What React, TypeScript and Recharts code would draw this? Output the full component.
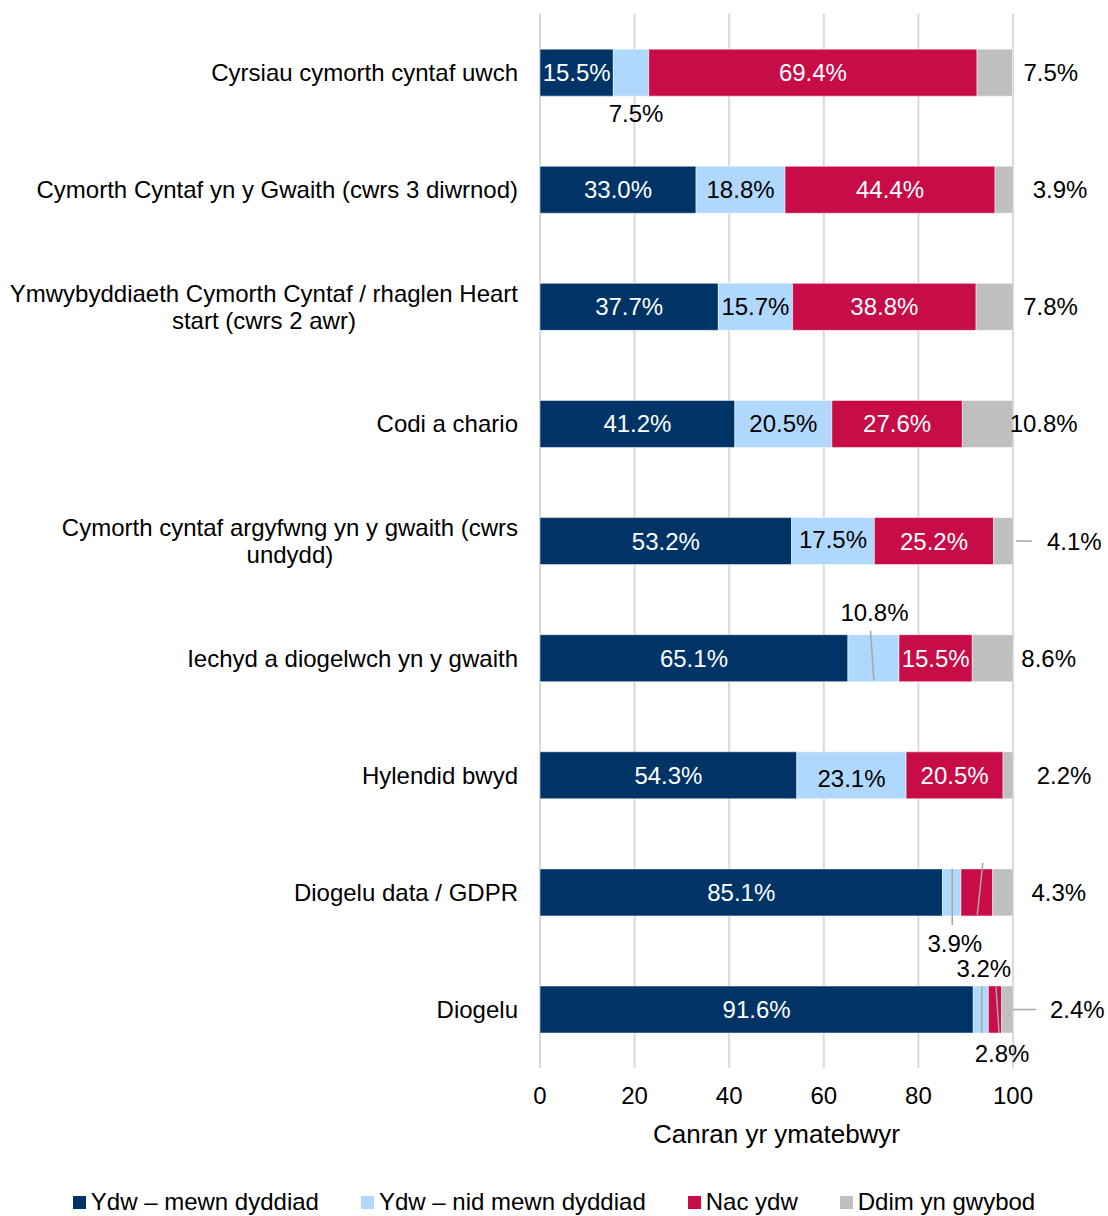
import React from 'react';
import { BarChart, Bar, XAxis, YAxis, CartesianGrid, Legend, LabelList, Label } from 'recharts';

// ---- data ----
const categories = [
  'Cyrsiau cymorth cyntaf uwch',
  'Cymorth Cyntaf yn y Gwaith (cwrs 3 diwrnod)',
  'Ymwybyddiaeth Cymorth Cyntaf / rhaglen Heart start (cwrs 2 awr)',
  'Codi a chario',
  'Cymorth cyntaf argyfwng yn y gwaith (cwrs undydd)',
  'Iechyd a diogelwch yn y gwaith',
  'Hylendid bwyd',
  'Diogelu data / GDPR',
  'Diogelu',
];
const ydwMewn = [15.5, 33.0, 37.7, 41.2, 53.2, 65.1, 54.3, 85.1, 91.6];
const ydwNid = [7.5, 18.8, 15.7, 20.5, 17.5, 10.8, 23.1, 3.9, 3.2];
const nacYdw = [69.4, 44.4, 38.8, 27.6, 25.2, 15.5, 20.5, 6.7, 2.8];
const ddim = [7.5, 3.9, 7.8, 10.8, 4.1, 8.6, 2.2, 4.3, 2.4];
const seriesKeys = ['ydwMewn', 'ydwNid', 'nacYdw', 'ddim'];
const seriesNames = ['Ydw – mewn dyddiad', 'Ydw – nid mewn dyddiad', 'Nac ydw', 'Ddim yn gwybod'];
const xTicks = [0, 20, 40, 60, 80, 100];
const axisTitle = 'Canran yr ymatebwyr';

// ---- style ----
const colors = ['#003466', '#b0d8fc', '#c80c47', '#bfbfbf'];
const labelColors = ['#ffffff', '#000000', '#ffffff', '#000000'];
const FONT = "'Liberation Sans', Arial, Helvetica, sans-serif";
const LEADER = '#a6a6a6';

const data = categories.map((name, i) => ({
  name,
  ydwMewn: ydwMewn[i],
  ydwNid: ydwNid[i],
  nacYdw: nacYdw[i],
  ddim: ddim[i],
}));

let measureCtx: CanvasRenderingContext2D | null = null;
function measure(text: string, size: number): number {
  if (!measureCtx) {
    const c = document.createElement('canvas');
    measureCtx = c.getContext('2d');
  }
  if (measureCtx) {
    measureCtx.font = `${size}px ${FONT}`;
    return measureCtx.measureText(text).width;
  }
  return text.length * size * 0.5;
}
function wrap(text: string, maxW: number, size: number): string[] {
  const words = text.split(' ');
  const lines: string[] = [];
  let cur = '';
  for (const w of words) {
    const test = cur ? cur + ' ' + w : w;
    if (cur && measure(test, size) > maxW) {
      lines.push(cur);
      cur = w;
    } else cur = test;
  }
  if (cur) lines.push(cur);
  return lines;
}

const CategoryTick = (props: any) => {
  const { x, y, payload } = props;
  const size = 24;
  const lines = wrap(String(payload.value), 515, size);
  if (lines.length === 1) {
    return (
      <text x={x} y={y} dy="0.355em" textAnchor="end" fontSize={size} fontFamily={FONT} fill="#000">
        {lines[0]}
      </text>
    );
  }
  const maxW = Math.max(...lines.map((l) => measure(l, size)));
  const cx = x - maxW / 2;
  const lh = 27;
  return (
    <g>
      {lines.map((l, i) => (
        <text key={i} x={cx} y={y + (i - (lines.length - 1) / 2) * lh} dy="0.355em" textAnchor="middle" fontSize={size} fontFamily={FONT} fill="#000">
          {l}
        </text>
      ))}
    </g>
  );
};

type Geo = { cx: number; cy: number; top: number; bottom: number; right: number };
type Place = { tx?: number; ty?: number; hide?: boolean; color?: string; line?: [number, number, number, number] };

const special: Record<string, (g: Geo) => Place> = {
  'ydwNid-0': (g) => ({ tx: g.cx + 5, ty: g.bottom + 17, color: '#000' }),
  'ydwNid-4': (g) => ({ tx: g.cx, ty: g.cy - 2 }),
  'ydwNid-5': (g) => ({ tx: g.cx + 1, ty: g.top - 22, color: '#000', line: [g.cx - 3, g.top - 4, g.cx + 0.5, g.bottom - 1] }),
  'ydwNid-6': (g) => ({ tx: g.cx, ty: g.cy + 3 }),
  'ydwNid-7': (g) => ({ tx: g.cx + 3, ty: g.bottom + 28, color: '#000', line: [g.cx + 0.5, g.top, g.cx + 0.5, g.bottom + 9] }),
  'nacYdw-7': (g) => ({ hide: true, line: [g.cx + 6, g.top - 6, g.cx + 0.5, g.bottom - 1] }),
  'ydwNid-8': (g) => ({ tx: g.cx + 3, ty: g.top - 18, color: '#000', line: [g.cx + 1, g.top, g.cx + 1, g.bottom] }),
  'nacYdw-8': (g) => ({ tx: g.cx + 7, ty: g.bottom + 20, color: '#000', line: [g.cx + 1, g.top + 1, g.cx + 4, g.bottom] }),
  'ddim-4': (g) => ({ tx: g.cx + 71, ty: g.cy, line: [g.right + 3, g.cy, g.right + 19, g.cy] }),
  'ddim-8': (g) => ({ tx: g.cx + 70, ty: g.cy, line: [g.right, g.cy, g.right + 23, g.cy] }),
};

const makeLabel = (key: string, sIdx: number) => (props: any) => {
  const vb = props.viewBox && props.viewBox.width !== undefined ? props.viewBox : props;
  const x = Number(vb.x), y = Number(vb.y), w = Number(vb.width), h = Number(vb.height);
  const index = props.index;
  const value = Number(props.value);
  const g: Geo = { cx: x + w / 2, cy: y + h / 2, top: y, bottom: y + h, right: x + w };
  const fn = special[`${key}-${index}`];
  let p: Place = fn ? fn(g) : {};
  let tx = p.tx ?? g.cx;
  let ty = p.ty ?? g.cy;
  if (!fn && key === 'ddim') tx = g.cx + 56;
  const color = p.color ?? labelColors[sIdx];
  return (
    <g>
      {p.line && (
        <line x1={p.line[0]} y1={p.line[1]} x2={p.line[2]} y2={p.line[3]} stroke={LEADER} strokeWidth={1.5} />
      )}
      {!p.hide && (
        <text x={tx} y={ty} dy="0.355em" textAnchor="middle" fontSize={24} fontFamily={FONT} fill={color}>
          {`${value.toFixed(1)}%`}
        </text>
      )}
    </g>
  );
};

const LegendContent = () => (
  <div
    style={{
      display: 'flex',
      justifyContent: 'center',
      alignItems: 'center',
      height: 28,
      width: 1108,
      fontFamily: FONT,
      fontSize: 24,
      color: '#000',
    }}
  >
    {seriesNames.map((n, i) => (
      <div key={n} style={{ display: 'flex', alignItems: 'center', marginLeft: i === 0 ? 0 : 42 }}>
        <span style={{ display: 'inline-block', width: 13, height: 13, background: colors[i], marginRight: 5 }} />
        <span style={{ whiteSpace: 'nowrap' }}>{n}</span>
      </div>
    ))}
  </div>
);

export default function App() {
  return (
    <div style={{ width: 1108, height: 1216, fontFamily: FONT, background: '#fff' }}>
      <style>{`body{margin:0;}`}</style>
      <BarChart
        width={1108}
        height={1216}
        data={data}
        layout="vertical"
        margin={{ top: 14, right: 95, bottom: 0, left: 0 }}
        barCategoryGap="30%"
      >
        <CartesianGrid horizontal={false} stroke="#d9d9d9" strokeWidth={2} />
        <XAxis
          type="number"
          domain={[0, 100]}
          ticks={xTicks}
          allowDataOverflow
          axisLine={false}
          tickLine={false}
          tickSize={0}
          tickMargin={19}
          height={120}
          tick={{ fontSize: 24, fill: '#000', fontFamily: FONT }}
        >
          <Label
            content={(props: any) => {
              const vb = props.viewBox || {};
              return (
                <text x={vb.x + vb.width / 2} y={vb.y + 75} textAnchor="middle" fontSize={26} fontFamily={FONT} fill="#000">
                  {axisTitle}
                </text>
              );
            }}
          />
        </XAxis>
        <YAxis
          type="category"
          dataKey="name"
          width={540}
          axisLine={false}
          tickLine={false}
          tickSize={0}
          tickMargin={22}
          interval={0}
          tick={<CategoryTick />}
        />
        <Legend
          verticalAlign="bottom"
          height={28}
          wrapperStyle={{ left: 0, width: 1108 }}
          content={<LegendContent />}
        />
        {seriesKeys.map((k, i) => (
          <Bar key={k} dataKey={k} name={seriesNames[i]} stackId="a" fill={colors[i]} stroke="#ffffff" strokeWidth={0.5} isAnimationActive={false}>
            <LabelList dataKey={k} content={makeLabel(k, i)} />
          </Bar>
        ))}
      </BarChart>
    </div>
  );
}
